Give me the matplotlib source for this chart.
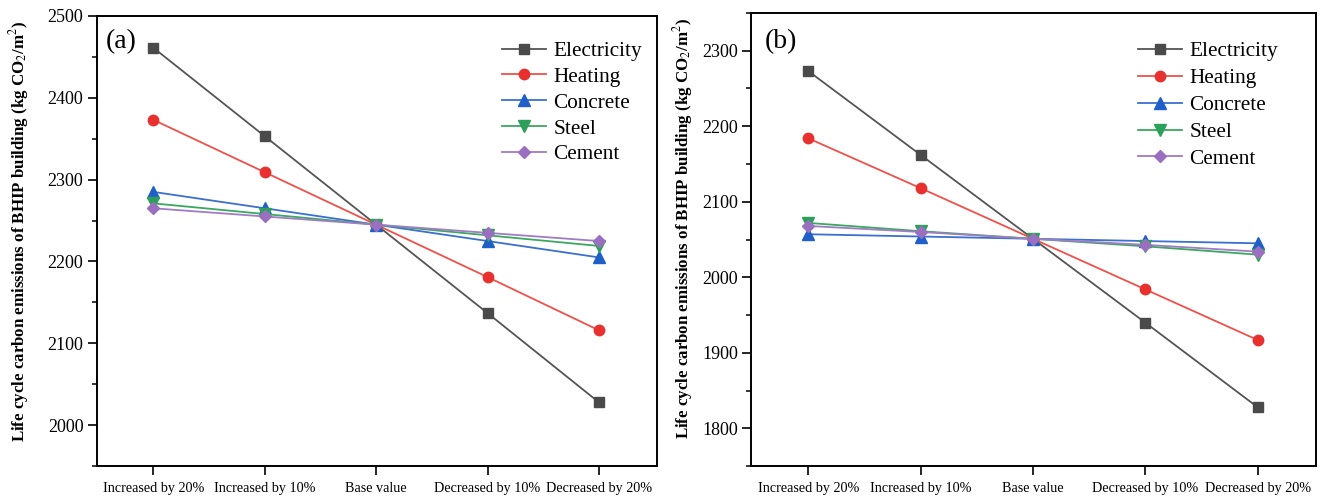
import matplotlib.pyplot as plt
from matplotlib.ticker import MultipleLocator

plt.rcParams['font.family'] = ['Liberation Serif', 'DejaVu Serif']
plt.rcParams['mathtext.fontset'] = 'stix'

scenarios = ["Increased by 20%", "Increased by 10%", "Base value",
             "Decreased by 10%", "Decreased by 20%"]
names = ["Electricity", "Heating", "Concrete", "Steel", "Cement"]

# panel (a)
a_electricity = [2461, 2353, 2245, 2137, 2028]
a_heating = [2373, 2309, 2245, 2181, 2116]
a_concrete = [2285, 2265, 2245, 2225, 2205]
a_steel = [2271, 2258, 2245, 2232, 2219]
a_cement = [2265, 2255, 2245, 2235, 2225]

# panel (b)
b_electricity = [2273, 2162, 2051, 1940, 1828]
b_heating = [2184, 2118, 2051, 1984, 1917]
b_concrete = [2057, 2054, 2051, 2048, 2045]
b_steel = [2072, 2061, 2051, 2041, 2030]
b_cement = [2068, 2060, 2051, 2043, 2034]

markers = ['s', 'o', '^', 'v', 'D']
mcolors = ['#4a4a4a', '#e8312f', '#1f5fc8', '#2ca05a', '#9b6fc0']
lcolors = ['#555555', '#f0504a', '#3b6fd0', '#3aa860', '#a07cc4']
msizes = [7, 7.5, 8, 8, 6.5]

fig = plt.figure(figsize=(13.3, 4.98), dpi=100)
ax1 = fig.add_axes([0.0727, 0.064, 0.4211, 0.904])
ax2 = fig.add_axes([0.5647, 0.064, 0.4248, 0.910])

panels = [
    (ax1, [a_electricity, a_heating, a_concrete, a_steel, a_cement],
     (1950, 2500), [2000, 2100, 2200, 2300, 2400, 2500], "(a)",
     (-0.117, 0.522), (1.0, 0.977), 0.28, (0.016, 0.944)),
    (ax2, [b_electricity, b_heating, b_concrete, b_steel, b_cement],
     (1750, 2350), [1800, 1900, 2000, 2100, 2200, 2300], "(b)",
     (-0.099, 0.525), (0.959, 0.97), 0.33, (0.025, 0.937)),
]

x = list(range(len(scenarios)))
for ax, series, ylim, yticks, tag, lab_xy, leg_anchor, lsp, tag_xy in panels:
    for i, vals in enumerate(series):
        ax.plot(x, vals, color=lcolors[i], lw=1.3, marker=markers[i],
                markersize=msizes[i], markerfacecolor=mcolors[i],
                markeredgecolor=mcolors[i], label=names[i])
    ax.set_xlim(-0.51, 4.52)
    ax.set_ylim(*ylim)
    ax.set_yticks(yticks)
    ax.yaxis.set_minor_locator(MultipleLocator(50))
    ax.set_xticks(x)
    ax.set_xticklabels(scenarios, fontsize=10.2)
    ax.tick_params(axis='y', which='major', labelsize=13, direction='out',
                   length=6.5, width=1.2, pad=3)
    ax.tick_params(axis='y', which='minor', direction='out', length=3.5, width=1.1)
    ax.tick_params(axis='x', direction='out', length=6.5, width=1.2, pad=5)
    for sp in ax.spines.values():
        sp.set_linewidth(1.4)
    ax.set_ylabel("Life cycle carbon emissions of BHIP building (kg CO$_2$/m$^2$)",
                  fontsize=12.2, fontweight='bold')
    ax.yaxis.set_label_coords(*lab_xy)
    ax.text(tag_xy[0], tag_xy[1], tag, transform=ax.transAxes, fontsize=20,
            va='center', ha='left')
    ax.legend(loc='upper right', frameon=False, fontsize=15.3,
              handlelength=2.05, labelspacing=lsp, handletextpad=0.35,
              borderaxespad=0.3, bbox_to_anchor=leg_anchor)

plt.savefig('out.png', dpi=100)
plt.close()
